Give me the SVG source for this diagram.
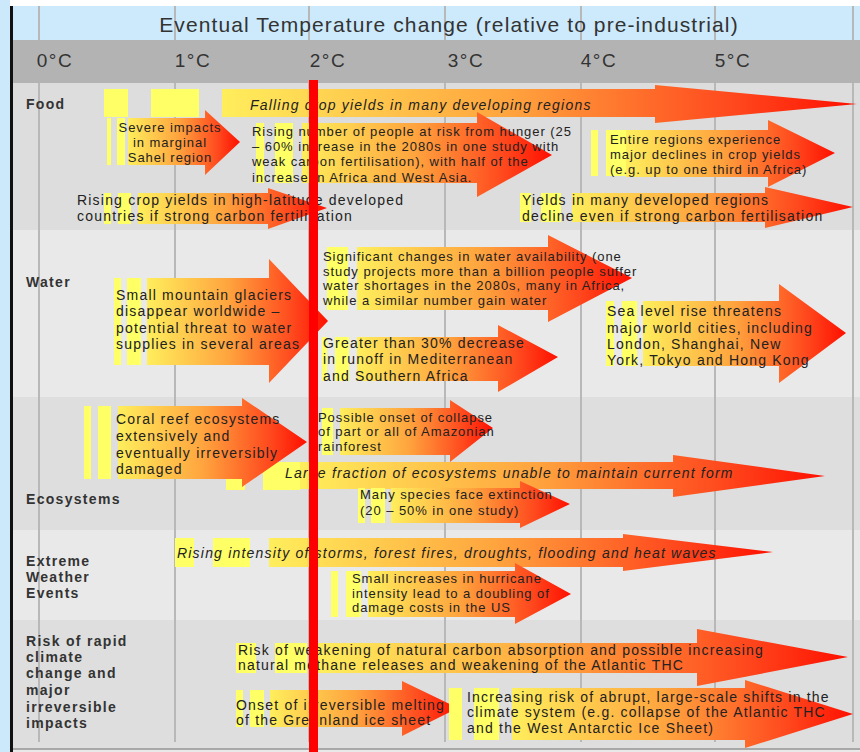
<svg xmlns="http://www.w3.org/2000/svg" width="860" height="752" viewBox="0 0 860 752">
<defs>
<linearGradient id="g" x1="0" y1="0" x2="1" y2="0">
<stop offset="0" stop-color="#ffee5c"/>
<stop offset="0.45" stop-color="#ffa43e"/>
<stop offset="0.8" stop-color="#ff4a1e"/>
<stop offset="1" stop-color="#ff0f00"/>
</linearGradient>
<style>
.ar{fill:url(#g)}
.st{fill:#ffff66}
.t{font-family:"Liberation Sans",Arial,sans-serif;font-size:14px;fill:#222;letter-spacing:1.2px}
.ts{font-family:"Liberation Sans",Arial,sans-serif;font-size:13px;fill:#222;letter-spacing:0.95px}
.ti{font-family:"Liberation Sans",Arial,sans-serif;font-size:14px;fill:#222;font-style:italic;letter-spacing:1.2px}
.lb{font-family:"Liberation Sans",Arial,sans-serif;font-size:14px;fill:#333;font-weight:bold;letter-spacing:1.3px}
.hd{font-family:"Liberation Sans",Arial,sans-serif;font-size:19px;fill:#333;text-anchor:middle;letter-spacing:1.5px}
.grid line{stroke:#b8b8b8;stroke-width:2}
</style>
</defs>
<rect x="0" y="0" width="860" height="752" fill="#ffffff"/>
<g id="background">
<rect x="0" y="0" width="10" height="752" fill="#cce9fb"/>
<rect x="13" y="6" width="847" height="34" fill="#cceafc"/>
<rect x="13" y="83" width="847" height="147" fill="#dddddd"/>
<rect x="13" y="230" width="847" height="167" fill="#e9e9e9"/>
<rect x="13" y="397" width="847" height="133" fill="#dedede"/>
<rect x="13" y="530" width="847" height="90" fill="#e9e9e9"/>
<rect x="13" y="620" width="847" height="128" fill="#dedede"/>
<rect x="13" y="748" width="847" height="2" fill="#a8a8a8"/>
<rect x="13" y="750" width="847" height="2" fill="#e9e9e9"/>
</g>
<g class="grid" id="grid">
<line x1="39" y1="6" x2="39" y2="742"/>
<line x1="175" y1="6" x2="175" y2="742"/>
<line x1="309" y1="6" x2="309" y2="742"/>
<line x1="445" y1="6" x2="445" y2="742"/>
<line x1="581" y1="6" x2="581" y2="742"/>
<line x1="715" y1="6" x2="715" y2="742"/>
<line x1="853" y1="6" x2="853" y2="742"/>
</g>
<g id="header">
<rect x="13" y="40" width="847" height="43" fill="#b3b3b3"/>
<text x="449" y="32" font-family="'Liberation Sans',Arial,sans-serif" font-size="21" fill="#333" text-anchor="middle" letter-spacing="1.1">Eventual Temperature change (relative to pre-industrial)</text>
<text class="hd" x="55" y="67">0°C</text>
<text class="hd" x="193" y="67">1°C</text>
<text class="hd" x="328" y="67">2°C</text>
<text class="hd" x="466" y="67">3°C</text>
<text class="hd" x="599" y="67">4°C</text>
<text class="hd" x="733" y="67">5°C</text>
</g>
<g id="labels">
<text class="lb" x="26" y="109">Food</text>
<text class="lb" x="26" y="287">Water</text>
<text class="lb" x="26" y="504">Ecosystems</text>
<text class="lb" x="26"><tspan x="26" y="566">Extreme</tspan><tspan x="26" y="582">Weather</tspan><tspan x="26" y="598">Events</tspan></text>
<text class="lb" x="26"><tspan x="26" y="646">Risk of rapid</tspan><tspan x="26" y="662">climate</tspan><tspan x="26" y="678">change and</tspan><tspan x="26" y="695">major</tspan><tspan x="26" y="712">irreversible</tspan><tspan x="26" y="728">impacts</tspan></text>
</g>
<g id="falling-crop-yields">
<rect class="st" x="104" y="89" width="24" height="28"/><rect class="st" x="151" y="89" width="48" height="28"/>
<path class="ar" d="M222 89 H655 V85 L857 104 L655 123 V117 H222 Z"/>
<text class="ti" x="250" y="110">Falling crop yields in many developing regions</text>
</g>
<g id="sahel">
<rect class="st" x="107" y="118" width="4" height="47"/><rect class="st" x="117" y="118" width="8" height="47"/>
<path class="ar" d="M128 118 H205 V110 L240 142 L205 175 V165 H128 Z"/>
<text class="ts" text-anchor="middle"><tspan x="170" y="132">Severe impacts</tspan><tspan x="170" y="147">in marginal</tspan><tspan x="170" y="162">Sahel region</tspan></text>
</g>
<g id="hunger">
<rect class="st" x="256" y="123" width="8" height="60"/><rect class="st" x="275" y="123" width="18" height="60"/>
<path class="ar" d="M302 123 H477 V112 L552 155 L477 197 V183 H302 Z"/>
<text class="ts"><tspan x="252" y="136">Rising number of people at risk from hunger (25</tspan><tspan x="252" y="151">– 60% increase in the 2080s in one study with</tspan><tspan x="252" y="166">weak carbon fertilisation), with half of the</tspan><tspan x="252" y="182">increase in Africa and West Asia.</tspan></text>
</g>
<g id="entire-regions">
<rect class="st" x="591" y="130" width="7" height="46"/><rect class="st" x="606" y="130" width="20" height="46"/>
<path class="ar" d="M626 130 H768 V120 L835 153 L768 187 V177 H626 Z"/>
<text class="ts"><tspan x="610" y="144">Entire regions experience</tspan><tspan x="610" y="159">major declines in crop yields</tspan><tspan x="610" y="174">(e.g. up to one third in Africa)</tspan></text>
</g>
<g id="rising-crop-yields">
<rect class="st" x="104" y="193" width="7" height="31"/><rect class="st" x="118" y="193" width="13" height="31"/>
<path class="ar" d="M138 193 H268 V188 L327 208 L268 229 V224 H138 Z"/>
<text class="t"><tspan x="77" y="205">Rising crop yields in high-latitude developed</tspan><tspan x="77" y="221">countries if strong carbon fertilisation</tspan></text>
</g>
<g id="developed-decline">
<rect class="st" x="520" y="193" width="11" height="29"/><rect class="st" x="541" y="193" width="20" height="29"/>
<path class="ar" d="M572 193 H765 V187 L853 207 L765 228 V222 H572 Z"/>
<text class="t"><tspan x="522" y="205">Yields in many developed regions</tspan><tspan x="522" y="221">decline even if strong carbon fertilisation</tspan></text>
</g>
<g id="glaciers">
<rect class="st" x="114" y="278" width="7" height="87"/><rect class="st" x="127" y="278" width="14" height="87"/>
<path class="ar" d="M147 278 H269 V259 L328 321 L269 383 V365 H147 Z"/>
<text class="t"><tspan x="116" y="300">Small mountain glaciers</tspan><tspan x="116" y="316">disappear worldwide –</tspan><tspan x="116" y="333">potential threat to water</tspan><tspan x="116" y="349">supplies in several areas</tspan></text>
</g>
<g id="water-availability">
<rect class="st" x="327" y="247" width="21" height="63"/>
<path class="ar" d="M357 247 H548 V235 L632 278 L548 322 V310 H357 Z"/>
<text class="ts"><tspan x="323" y="261">Significant changes in water availability (one</tspan><tspan x="323" y="276">study projects more than a billion people suffer</tspan><tspan x="323" y="290">water shortages in the 2080s, many in Africa,</tspan><tspan x="323" y="305">while a similar number gain water</tspan></text>
</g>
<g id="runoff">
<rect class="st" x="322" y="337" width="5" height="44"/><rect class="st" x="335" y="337" width="14" height="44"/>
<path class="ar" d="M357 337 H498 V325 L558 357 L498 392 V381 H357 Z"/>
<text class="t"><tspan x="323" y="348">Greater than 30% decrease</tspan><tspan x="323" y="364">in runoff in Mediterranean</tspan><tspan x="323" y="381">and Southern Africa</tspan></text>
</g>
<g id="sea-level">
<rect class="st" x="606" y="301" width="8" height="65"/><rect class="st" x="622" y="301" width="15" height="65"/>
<path class="ar" d="M643 301 H779 V284 L846 333 L779 383 V366 H643 Z"/>
<text class="t"><tspan x="607" y="316">Sea level rise threatens</tspan><tspan x="607" y="333">major world cities, including</tspan><tspan x="607" y="349">London, Shanghai, New</tspan><tspan x="607" y="365">York, Tokyo and Hong Kong</tspan></text>
</g>
<g id="large-fraction">
<rect class="st" x="226" y="462" width="19" height="28"/><rect class="st" x="263" y="462" width="37" height="28"/>
<path class="ar" d="M300 462 H673 V455 L825 476 L673 497 V489 H300 Z"/>
<text class="ti" x="285" y="478">Large fraction of ecosystems unable to maintain current form</text>
</g>
<g id="coral-reef">
<rect class="st" x="84" y="406" width="7" height="73"/><rect class="st" x="98" y="406" width="13" height="73"/>
<path class="ar" d="M118 406 H242 V398 L307 442 L242 487 V479 H118 Z"/>
<text class="t"><tspan x="116" y="424">Coral reef ecosystems</tspan><tspan x="116" y="441">extensively and</tspan><tspan x="116" y="458">eventually irreversibly</tspan><tspan x="116" y="474">damaged</tspan></text>
</g>
<g id="amazon">
<rect class="st" x="322" y="408" width="11" height="47"/>
<path class="ar" d="M340 408 H450 V400 L493 428 L450 462 V455 H340 Z"/>
<text class="ts"><tspan x="318" y="422">Possible onset of collapse</tspan><tspan x="318" y="436">of part or all of Amazonian</tspan><tspan x="318" y="451">rainforest</tspan></text>
</g>
<g id="species">
<rect class="st" x="358" y="488" width="7" height="35"/><rect class="st" x="371" y="488" width="14" height="35"/>
<path class="ar" d="M391 488 H520 V481 L570 504 L520 528 V523 H391 Z"/>
<text class="ts"><tspan x="360" y="499">Many species face extinction</tspan><tspan x="360" y="515">(20 – 50% in one study)</tspan></text>
</g>
<g id="storms">
<rect class="st" x="175" y="538" width="19" height="29"/><rect class="st" x="213" y="538" width="37" height="29"/>
<path class="ar" d="M269 538 H623 V534 L773 552 L623 571 V567 H269 Z"/>
<text class="ti" x="177" y="558">Rising intensity of storms, forest fires, droughts, flooding and heat waves</text>
</g>
<g id="hurricane">
<rect class="st" x="331" y="571" width="7" height="46"/><rect class="st" x="346" y="571" width="15" height="46"/>
<path class="ar" d="M368 571 H515 V563 L571 594 L515 624 V617 H368 Z"/>
<text class="ts"><tspan x="352" y="583">Small increases in hurricane</tspan><tspan x="352" y="598">intensity lead to a doubling of</tspan><tspan x="352" y="612">damage costs in the US</tspan></text>
</g>
<g id="carbon-absorption">
<rect class="st" x="236" y="643" width="20" height="30"/><rect class="st" x="275" y="643" width="32" height="30"/>
<path class="ar" d="M318 643 H697 V629 L848 657 L697 686 V673 H318 Z"/>
<text class="t"><tspan x="238" y="655">Risk of weakening of natural carbon absorption and possible increasing</tspan><tspan x="238" y="670">natural methane releases and weakening of the Atlantic THC</tspan></text>
</g>
<g id="greenland">
<rect class="st" x="236" y="690" width="7" height="37"/><rect class="st" x="250" y="690" width="14" height="37"/>
<path class="ar" d="M270 690 H402 V681 L458 708 L402 736 V727 H270 Z"/>
<text class="t"><tspan x="236" y="710">Onset of irreversible melting</tspan><tspan x="236" y="725">of the Greenland ice sheet</tspan></text>
</g>
<g id="abrupt-shifts">
<rect class="st" x="449" y="688" width="13" height="52"/><rect class="st" x="474" y="688" width="25" height="52"/>
<path class="ar" d="M512 688 H745 V680 L853 714 L745 748 V740 H512 Z"/>
<text class="t"><tspan x="467" y="702">Increasing risk of abrupt, large-scale shifts in the</tspan><tspan x="467" y="717">climate system (e.g. collapse of the Atlantic THC</tspan><tspan x="467" y="733">and the West Antarctic Ice Sheet)</tspan></text>
</g>
<g id="frame">
<rect x="10" y="6" width="3" height="746" fill="#111"/>
<rect x="309" y="80" width="9" height="672" fill="#ff0000"/>
</g>
</svg>
